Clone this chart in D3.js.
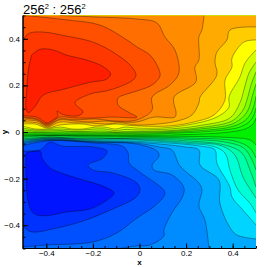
<!DOCTYPE HTML>
<html lang="en">
<head>
<meta charset="UTF-8">
<title>256 : 256</title>
<style>
  body { margin: 0; background: #fff; }
  text { font-family: "Liberation Sans", Arial, sans-serif; fill: #000; }
</style>
</head>
<body>
<script src="https://d3js.org/d3.v7.min.js"></script>
<script type="text/javascript">
  // contour lines, [x, y] in axis units
  // upper half, from the green band inwards to the red core
  var u11 = [[.5,.06],[.487,.034],[.453,.013],[.367,-.002],[.26,-.009],[-.011,-.015],[-.5,-.013]];
  var u10 = [[.5,.103],[.491,.073],[.47,.043],[.431,.021],[.367,.009],[.26,0],[.131,-.006],[-.011,-.011],[-.5,-.009]];
  var u9 = [[.5,.154],[.491,.112],[.474,.073],[.444,.043],[.388,.021],[.26,.006],[.131,-.002],[-.011,-.006],[-.149,-.006],[-.5,-.004]];
  var u8 = [[.5,.206],[.483,.15],[.47,.103],[.448,.069],[.397,.034],[.26,.013],[.131,.002],[-.011,-.002],[-.149,-.002],[-.341,0],[-.397,-.002],[-.5,0]];
  var u7 = [[.5,.258],[.479,.202],[.461,.137],[.444,.094],[.397,.047],[.26,.019],[.131,.006],[-.011,.002],[-.062,.002],[-.105,0],[-.148,.004],[-.191,.004],[-.242,.002],[-.29,.002],[-.341,.006],[-.397,.004],[-.448,.004],[-.5,.009]];
  var u6 = [[.5,.3],[.47,.253],[.448,.18],[.431,.125],[.388,.06],[.26,.028],[.131,.013],[-.011,.009],[-.062,.011],[-.105,.006],[-.148,.013],[-.191,.013],[-.242,.009],[-.29,.009],[-.341,.013],[-.397,.009],[-.448,.009],[-.5,.017]];
  var u5 = [[.5,.352],[.453,.296],[.431,.236],[.384,.15],[.384,.107],[.332,.064],[.204,.03],[.088,.017],[-.011,.017],[-.062,.021],[-.105,.013],[-.148,.021],[-.191,.021],[-.242,.013],[-.29,.013],[-.341,.021],[-.397,.013],[-.448,.013],[-.5,.026]];
  var u4 = [[.5,.395],[.448,.386],[.397,.317],[.397,.279],[.367,.223],[.367,.137],[.32,.073],[.234,.043],[.131,.026],[-.011,.026],[-.062,.03],[-.105,.034],[-.148,.03],[-.191,.026],[-.242,.034],[-.29,.034],[-.341,.03],[-.397,.017],[-.448,.034],[-.5,.034]];
  var u3 = [[.5,.451],[.388,.438],[.375,.395],[.332,.343],[.324,.3],[.332,.245],[.26,.15],[.255,.125],[.225,.073],[.161,.047],[.075,.034],[-.011,.03],[-.084,.039],[-.149,.034],[-.212,.039],[-.277,.039],[-.341,.043],[-.397,.021],[-.44,.039],[-.5,.043]];
  var u2 = [[.277,.5],[.268,.438],[.255,.408],[.255,.309],[.238,.279],[.242,.215],[.148,.15],[.157,.082],[.152,.064],[.062,.064],[-.011,.043],[-.084,.043],[-.149,.047],[-.212,.043],[-.277,.047],[-.341,.052],[-.397,.026],[-.44,.047],[-.5,.052]];
  var u1 = [[-.341,.5],[-.17,.493],[-.011,.485],[.075,.468],[.109,.408],[.152,.352],[.169,.253],[.131,.202],[.054,.15],[.054,.094],[-.011,.052],[-.105,.047],[-.191,.056],[-.277,.052],[-.341,.056],[-.397,.03],[-.44,.052],[-.5,.06]];
  var uLobe = [[-.491,.5],[-.311,.481],[-.17,.459],[-.054,.395],[-.011,.365],[.045,.33],[.079,.279],[.088,.24],[.054,.202],[-.011,.176],[-.054,.163],[-.092,.146],[-.092,.116],[-.049,.086],[-.011,.064],[-.127,.064],[-.191,.06],[-.277,.06],[-.341,.064],[-.397,.034],[-.44,.056],[-.5,.064]];
  var uRed = [[-.5,.382],[-.491,.408],[-.47,.425],[-.414,.429],[-.315,.412],[-.2,.386],[-.114,.343],[-.041,.288],[-.015,.245],[-.028,.223],[-.127,.18],[-.212,.163],[-.277,.125],[-.242,.086],[-.268,.069],[-.333,.077],[-.354,.09],[-.35,.069],[-.371,.052],[-.397,.039],[-.44,.064],[-.5,.069]];
  var uCore = [[-.463,.33],[-.427,.355],[-.37,.352],[-.313,.33],[-.227,.309],[-.155,.28],[-.124,.249],[-.141,.227],[-.213,.213],[-.327,.183],[-.413,.159],[-.449,.109],[-.477,.083],[-.487,.102],[-.484,.18],[-.477,.266],[-.463,.33]];

  // lower half, from the green band inwards to the blue core
  var l1 = [[.5,-.056],[.474,-.034],[.388,-.024],[.217,-.019],[-.011,-.019],[-.2,-.017],[-.384,-.015],[-.5,-.017]];
  var l2 = [[.5,-.112],[.474,-.069],[.41,-.039],[.217,-.026],[-.011,-.022],[-.2,-.021],[-.384,-.017],[-.5,-.021]];
  var l3 = [[.5,-.163],[.483,-.12],[.448,-.069],[.367,-.043],[.217,-.032],[-.011,-.026],[-.105,-.028],[-.2,-.025],[-.29,-.027],[-.384,-.021],[-.44,-.025],[-.5,-.026]];
  var l4 = [[.5,-.236],[.474,-.163],[.44,-.09],[.367,-.056],[.217,-.039],[-.011,-.029],[-.2,-.028],[-.384,-.023],[-.5,-.03]];
  var l5 = [[.5,-.283],[.444,-.193],[.41,-.099],[.354,-.06],[.217,-.045],[-.011,-.032],[-.105,-.03],[-.2,-.032],[-.29,-.029],[-.384,-.026],[-.44,-.03],[-.5,-.033]];
  var l6 = [[.5,-.347],[.474,-.305],[.423,-.249],[.388,-.163],[.367,-.09],[.311,-.06],[.217,-.05],[-.011,-.035],[-.2,-.034],[-.384,-.027],[-.5,-.036]];
  var l7 = [[.5,-.399],[.444,-.335],[.397,-.279],[.388,-.236],[.332,-.133],[.324,-.077],[.26,-.06],[-.011,-.04],[-.2,-.037],[-.384,-.029],[-.5,-.039]];
  var l8 = [[.5,-.459],[.418,-.442],[.384,-.403],[.345,-.305],[.341,-.206],[.26,-.142],[.255,-.077],[.195,-.064],[-.011,-.044],[-.2,-.04],[-.384,-.031],[-.5,-.042]];
  var l9 = [[.298,-.5],[.281,-.378],[.255,-.317],[.268,-.249],[.255,-.219],[.174,-.146],[.139,-.077],[.088,-.065],[-.011,-.048],[-.2,-.042],[-.384,-.033],[-.5,-.045]];
  var l10 = [[-.084,-.5],[-.011,-.489],[.045,-.485],[.105,-.446],[.105,-.42],[.139,-.347],[.182,-.283],[.191,-.24],[.139,-.184],[.062,-.163],[.054,-.142],[.084,-.103],[.075,-.082],[-.011,-.052],[-.2,-.044],[-.384,-.035],[-.5,-.05]];
  var lLobe = [[-.5,-.493],[-.397,-.485],[-.2,-.472],[-.097,-.433],[-.011,-.369],[.066,-.317],[.109,-.262],[.075,-.223],[.036,-.197],[-.011,-.163],[-.045,-.133],[-.049,-.09],[-.071,-.062],[-.2,-.047],[-.384,-.037],[-.5,-.058]];
  var lBlue = [[-.5,-.378],[-.491,-.412],[-.461,-.429],[-.354,-.412],[-.242,-.382],[-.114,-.33],[-.019,-.283],[.002,-.253],[-.011,-.219],[-.114,-.176],[-.2,-.163],[-.221,-.142],[-.157,-.112],[-.139,-.082],[-.2,-.064],[-.333,-.06],[-.384,-.043],[-.427,-.077],[-.483,-.082],[-.5,-.082]];
  var lCore = [[-.487,-.09],[-.427,-.082],[-.418,-.112],[-.384,-.154],[-.311,-.184],[-.242,-.206],[-.157,-.232],[-.109,-.262],[-.139,-.292],[-.212,-.33],[-.311,-.343],[-.414,-.36],[-.457,-.347],[-.479,-.292],[-.487,-.189],[-.487,-.09]];

  var upperContours = [u11, u10, u9, u8, u7, u6, u5, u4, u3, u2, u1, uLobe, uRed, uCore];
  var lowerContours = [l1, l2, l3, l4, l5, l6, l7, l8, l9, l10, lLobe, lBlue, lCore];
  var upperColors = ['#14ff00', '#2aff00', '#55ff00', '#80ff00', '#aaff00', '#d4ff00', '#ffff00', '#ffcc00', '#ffaa00', '#ff8c00', '#ff6e00', '#ff5000', '#ff3800', '#ff1e00'];
  var lowerColors = ['#00ff2a', '#00ff55', '#00ff80', '#00ffaa', '#00ffd4', '#00ffff', '#00d4ff', '#00aaff', '#008cff', '#006eff', '#0050ff', '#0032ff', '#0014ff'];
  var midColor = '#00f000';

  var majorTicks = [-0.4, -0.2, 0, 0.2, 0.4];
  var minorTicks = d3.range(-10, 11).map(function(d) { return d * 0.05; });

  var width = 274, height = 267;
  var plotLeft = 23, plotRight = 256, plotTop = 15.5, plotBottom = 248.5;

  var x = d3.scaleLinear().domain([-0.5, 0.5]).range([plotLeft, plotRight]),
      y = d3.scaleLinear().domain([-0.5, 0.5]).range([plotBottom, plotTop]);

  var svg = d3.select('body').append('svg')
      .attr('width', width)
      .attr('height', height);

  svg.append('defs').append('clipPath')
      .attr('id', 'plot')
    .append('rect')
      .attr('x', plotLeft)
      .attr('y', plotTop)
      .attr('width', plotRight - plotLeft)
      .attr('height', plotBottom - plotTop);

  var line = d3.line()
      .x(function(d) { return x(d[0]); })
      .y(function(d) { return y(d[1]); })
      .curve(d3.curveCatmullRom.alpha(0.5));

  // close a contour round the plot corners of its half
  function region(pts, side) {
    var d = line(pts), corners = [];
    if (pts[0][0] === 0.5) corners = [[-0.5, side], [0.5, side]];
    else if (Math.abs(pts[0][1]) === 0.5) corners = [[-0.5, side]];
    corners.forEach(function(c) { d += 'L' + x(c[0]) + ',' + y(c[1]); });
    return d + 'Z';
  }

  var plot = svg.append('g').attr('clip-path', 'url(#plot)');

  plot.append('rect')
      .attr('x', plotLeft)
      .attr('y', plotTop)
      .attr('width', plotRight - plotLeft)
      .attr('height', plotBottom - plotTop)
      .attr('fill', midColor);

  function drawHalf(name, contours, colors, side) {
    plot.selectAll('path.' + name + '-fill')
        .data(contours)
      .enter().append('path')
        .attr('class', name + '-fill')
        .attr('d', function(d) { return region(d, side); })
        .attr('fill', function(d, i) { return colors[i]; });
  }

  function drawLines(name, contours) {
    plot.selectAll('path.' + name + '-line')
        .data(contours)
      .enter().append('path')
        .attr('class', name + '-line')
        .attr('d', line)
        .attr('fill', 'none')
        .attr('stroke', '#000')
        .attr('stroke-opacity', 0.5)
        .attr('stroke-width', 0.7);
  }

  drawHalf('upper', upperContours, upperColors, 0.5);
  drawHalf('lower', lowerContours, lowerColors, -0.5);
  drawLines('upper', upperContours);
  drawLines('lower', lowerContours);

  function style(g) {
    g.selectAll('text').style('font-size', '8px');
    g.selectAll('line').attr('stroke', '#000');
  }

  var fmt = function(d) { return d === 0 ? '0' : d3.format('.1f')(d); };

  svg.append('g')
      .attr('transform', 'translate(0,' + plotBottom + ')')
      .call(d3.axisBottom(x).tickValues(minorTicks).tickSize(-2.5).tickFormat(''))
      .call(function(g) { g.select('.domain').remove(); })
      .call(style);
  svg.append('g')
      .attr('transform', 'translate(' + plotLeft + ',0)')
      .call(d3.axisLeft(y).tickValues(minorTicks).tickSize(-2.5).tickFormat(''))
      .call(function(g) { g.select('.domain').remove(); })
      .call(style);

  svg.append('g')
      .attr('transform', 'translate(0,' + plotBottom + ')')
      .call(d3.axisBottom(x).tickValues(majorTicks).tickSize(-5).tickPadding(2).tickFormat(fmt))
      .call(function(g) { g.select('.domain').attr('stroke-width', 1.2).attr('d', 'M' + (plotLeft - 0.5) + ',0H' + plotRight); })
      .call(style);
  svg.append('g')
      .attr('transform', 'translate(' + plotLeft + ',0)')
      .call(d3.axisLeft(y).tickValues(majorTicks).tickSize(-5).tickPadding(3).tickFormat(fmt))
      .call(function(g) { g.select('.domain').attr('stroke-width', 1.5).attr('d', 'M0,' + plotTop + 'V' + plotBottom); })
      .call(style);

  svg.append('text')
      .attr('x', x(0))
      .attr('y', 265)
      .attr('text-anchor', 'middle')
      .style('font-size', '8px')
      .style('font-weight', 'bold')
      .text('x');

  svg.append('text')
      .attr('transform', 'translate(7,' + y(0) + ') rotate(-90)')
      .attr('text-anchor', 'middle')
      .style('font-size', '8px')
      .style('font-weight', 'bold')
      .text('y');

  var title = svg.append('text')
      .attr('x', plotLeft)
      .attr('y', 14)
      .style('font-size', '13px');
  title.append('tspan').text('256');
  title.append('tspan').attr('dy', -5).style('font-size', '7.5px').text('2');
  title.append('tspan').attr('dy', 5).text(' : 256');
  title.append('tspan').attr('dy', -5).style('font-size', '7.5px').text('2');
</script>
</body>
</html>
